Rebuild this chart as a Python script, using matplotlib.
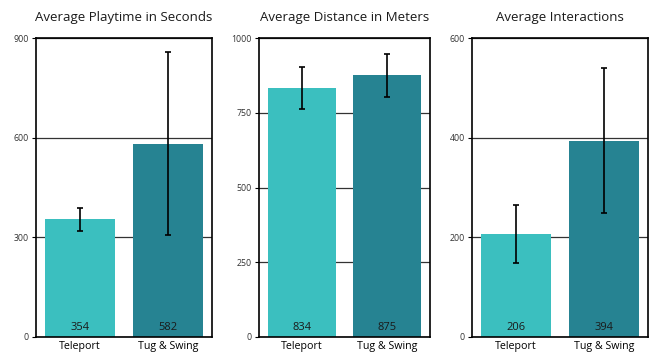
import matplotlib.pyplot as plt
import numpy as np

plt.rcParams['font.family'] = ['Open Sans', 'DejaVu Sans']

methods = ['Teleport', 'Tug & Swing']
colors = ['#3bbfbf', '#268392']

titles = ['Average Playtime in Seconds', 'Average Distance in Meters', 'Average Interactions']
means = [[354, 582], [834, 875], [206, 394]]
errors = [[35, 275], [70, 73], [58, 146]]
ylims = [900, 1000, 600]
yticks = [[0, 300, 600, 900], [0, 250, 500, 750, 1000], [0, 200, 400, 600]]

boxes = [(36, 176), (259, 171), (472, 176)]

fig = plt.figure(figsize=(6.52, 3.56), dpi=100)
for i in range(3):
    left, w = boxes[i]
    ax = fig.add_axes([left / 652, 19 / 356, w / 652, 299 / 356])
    x = np.arange(len(methods))
    ax.set_axisbelow(True)
    ax.grid(axis='y', color='#333333', linewidth=0.9)
    ax.bar(x, means[i], width=0.8, color=colors, zorder=2)
    ax.errorbar(x, means[i], yerr=errors[i], fmt='none', ecolor='black',
                elinewidth=1.2, capsize=2.5, capthick=1.2, zorder=3)
    for xi, v in zip(x, means[i]):
        ax.text(xi, ylims[i] * 0.012, str(v), ha='center', va='bottom',
                fontsize=8, color='#1a1a1a', zorder=4)
    ax.set_xlim(-0.5, 1.5)
    ax.set_ylim(0, ylims[i])
    ax.set_yticks(yticks[i])
    ax.set_xticks(x)
    ax.set_xticklabels(methods, fontsize=7.7)
    ax.tick_params(axis='y', labelsize=6.3, labelcolor='#333333', length=3, width=0.8, pad=2)
    ax.tick_params(axis='x', length=0, pad=3)
    for s in ax.spines.values():
        s.set_linewidth(1.2)
        s.set_color('black')
    ax.set_title(titles[i], fontsize=9.5, pad=12, color='#1a1a1a')

fig.savefig('out.png', dpi=100)
